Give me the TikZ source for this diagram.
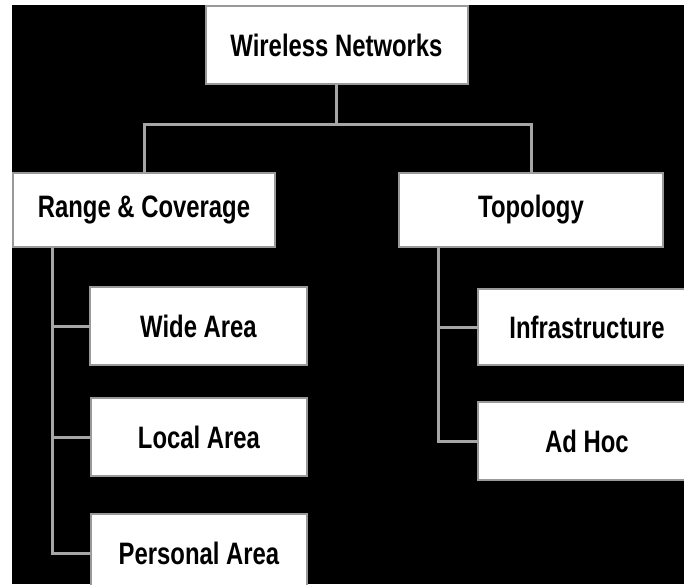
\documentclass[tikz,border=0pt]{standalone}
\usepackage{fontspec}
\setmainfont{Liberation Sans}[FakeStretch=0.77]
\usepackage{tikz}
\usetikzlibrary{calc}

\begin{document}
\begin{tikzpicture}[x=1pt,y=-1pt,inner sep=0pt,outer sep=0pt,
    box/.style={draw=gray!80,line width=2pt,fill=white,text=black,
        font=\fontsize{31}{33}\selectfont\bfseries,align=center},
    link/.style={draw=gray!70,line width=3pt}]
    % canvas
    \useasboundingbox (0,0) rectangle (684,584);
    \clip (0,0) rectangle (684,584);
    \fill[white] (0,0) rectangle (684,584);
    \fill[black] (12,5) rectangle (684,584);
    % boxes
    \node[box,minimum width=262pt,minimum height=78pt] (wireless_net) at (336.5,45) {Wireless Networks};
    \node[box,minimum width=262pt,minimum height=74pt] (range_cov) at (144,210) {Range \& Coverage};
    \node[box,minimum width=264pt,minimum height=74pt] (topology) at (531,210) {Topology};
    \node[box,minimum width=217pt,minimum height=78pt] (wide_area) at (198.5,326) {Wide Area};
    \node[box,minimum width=216pt,minimum height=78pt] (local_area) at (199,437) {Local Area};
    \node[box,minimum width=216pt,minimum height=78pt] (personal_area) at (199,553) {Personal Area};
    \node[box,minimum width=218pt,minimum height=76pt] (infra) at (587,327) {Infrastructure};
    \node[box,minimum width=218pt,minimum height=78pt] (ad_hoc) at (587,441) {Ad Hoc};
    % tree links
    \coordinate (bus) at ($(wireless_net.south)+(0,40)$);
    \coordinate (range_trunk) at ($(range_cov.south west)+(39,0)$);
    \coordinate (topo_trunk) at ($(topology.south west)+(39,0)$);
    \draw[link] (wireless_net.south) -- (bus);
    \draw[link] (range_cov.north) |- (bus) -| (topology.north);
    \draw[link] (range_trunk) |- (wide_area.west);
    \draw[link] (range_trunk) |- (local_area.west);
    \draw[link] (range_trunk) |- (personal_area.west);
    \draw[link] (topo_trunk) |- (infra.west);
    \draw[link] (topo_trunk) |- (ad_hoc.west);
\end{tikzpicture}
\end{document}
